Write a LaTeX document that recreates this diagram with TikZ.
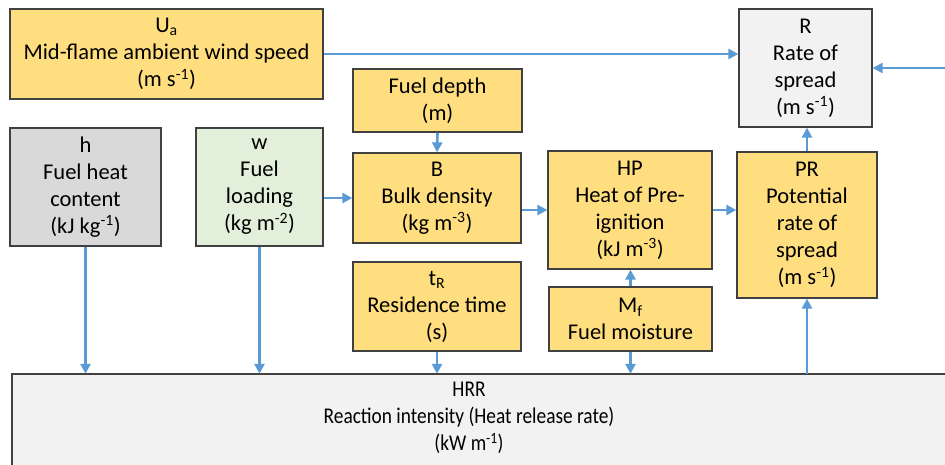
\documentclass[tikz,border=0pt]{standalone}
\usepackage{fontspec}
\setmainfont{Carlito}
\definecolor{gold}{RGB}{255,222,128}
\definecolor{lightgrey}{RGB}{242,242,242}
\definecolor{midgrey}{RGB}{217,217,217}
\definecolor{palegreen}{RGB}{226,239,218}
\definecolor{edge}{RGB}{64,64,64}
\definecolor{flowblue}{RGB}{91,155,213}
\usetikzlibrary{arrows.meta}

\begin{document}
\begin{tikzpicture}[x=1pt, y=-1pt,
    every node/.style={font=\fontsize{22.5}{27}\selectfont},
    var/.style={draw=edge, line width=1.3pt, fill=gold, align=center, inner sep=0pt},
    flow/.style={draw=flowblue, line width=2.6pt, -{Triangle[length=10pt, width=10pt]}}]
    \path[use as bounding box, clip] (0,0) rectangle (945,464);
    % reaction intensity panel, runs off the page
    \fill[lightgrey] (12,374) rectangle (960,484);
    \draw[edge, line width=1.3pt] (12,484) |- (960,374);
    \node[minimum height=88pt, transform shape, xscale=0.86, align=center] (hrr) at (469,418) {HRR\\Reaction intensity (Heat release rate)\\(kW m\textsuperscript{-1})};

    \node[var, minimum width=313pt, minimum height=90pt] (ua) at (166.5,54) {U\textsubscript{a}\\Mid-flame ambient wind speed\\(m s\textsuperscript{-1})};
    \node[var, fill=lightgrey, minimum width=133pt, minimum height=118pt] (rate) at (805.5,68) {R\\Rate of\\spread\\(m s\textsuperscript{-1})};
    \node[var, minimum width=169pt, minimum height=63pt] (depth) at (437.5,100.5) {Fuel depth\\(m)};
    \node[var, fill=midgrey, minimum width=151pt, minimum height=118pt] (heat) at (85.5,187) {h\\Fuel heat\\content\\(kJ kg\textsuperscript{-1})};
    \node[var, fill=palegreen, minimum width=127pt, minimum height=118pt] (load) at (259.5,187) {w\\Fuel\\loading\\(kg m\textsuperscript{-2})};
    \node[var, minimum width=168pt, minimum height=90pt] (bulk) at (437,198) {B\\Bulk density\\(kg m\textsuperscript{-3})};
    \node[var, minimum width=164pt, minimum height=118pt] (hp) at (630,210) {HP\\Heat of Pre-\\ignition\\(kJ m\textsuperscript{-3})};
    \node[var, minimum width=140pt, minimum height=146pt] (pr) at (807,225) {PR\\Potential\\rate of\\spread\\(m s\textsuperscript{-1})};
    \node[var, minimum width=168pt, minimum height=89pt] (tr) at (437,306.5) {t\textsubscript{R}\\Residence time\\(s)};
    \node[var, minimum width=163pt, minimum height=64pt] (mf) at (630.5,319) {M\textsubscript{f}\\Fuel moisture};
    \coordinate (outer) at (945,68);

    \draw[flow] (ua.east) -- (ua.east -| rate.west);
    \draw[flow] (outer) -- (rate.east);
    \draw[flow] (depth.south) -- (bulk.north);
    \draw[flow] (bulk.west -| load.east) -- (bulk.west);
    \draw[flow] (hp.west -| bulk.east) -- (hp.west);
    \draw[flow] (hp.east) -- (hp.east -| pr.west);
    \draw[flow] (pr.north) -- (pr.north |- rate.south);
    \draw[flow] (mf.north) -- (mf.north |- hp.south);
    \draw[flow] (heat.south) -- (heat.south |- hrr.north);
    \draw[flow] (load.south) -- (load.south |- hrr.north);
    \draw[flow] (tr.south) -- (tr.south |- hrr.north);
    \draw[flow] (mf.south) -- (mf.south |- hrr.north);
    \draw[flow] (pr.south |- hrr.north) -- (pr.south);
  \end{tikzpicture}
\end{document}
